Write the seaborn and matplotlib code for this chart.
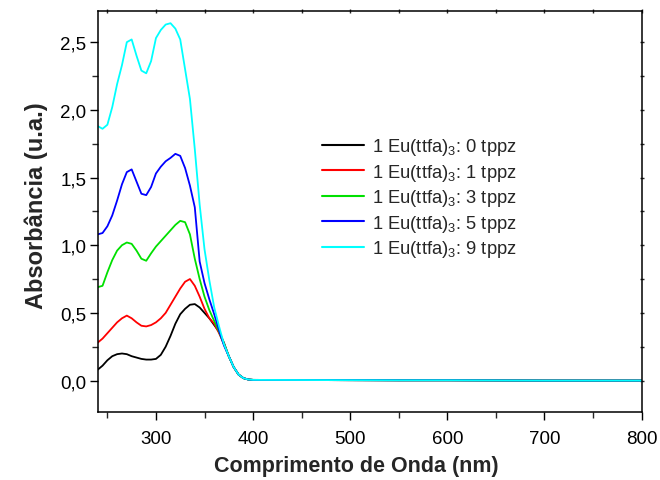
import numpy as np
import pandas as pd
import matplotlib
matplotlib.use("Agg")
import matplotlib.pyplot as plt
import seaborn as sns
from matplotlib.ticker import MultipleLocator, FuncFormatter

# ---- data ----
wavelength = [240, 245, 250, 255, 260, 265, 270, 275, 280, 285, 290, 295, 300,
              305, 310, 315, 320, 325, 330, 335, 340, 345, 350, 355, 360, 365,
              370, 375, 380, 385, 390, 395, 400, 450, 500, 550, 600, 650, 700,
              750, 800]

tail = [0.18, 0.10, 0.045, 0.018, 0.008, 0.005, 0.004, 0.003, 0.002, 0.002,
        0.001, 0.0, 0.0, 0.0]

abs_0 = [0.08, 0.11, 0.15, 0.18, 0.195, 0.20, 0.195, 0.18, 0.17, 0.16, 0.155,
         0.155, 0.16, 0.19, 0.25, 0.33, 0.42, 0.49, 0.53, 0.56, 0.565, 0.54,
         0.50, 0.46, 0.41, 0.36, 0.28] + tail
abs_1 = [0.28, 0.31, 0.35, 0.39, 0.43, 0.46, 0.48, 0.46, 0.43, 0.405, 0.40,
         0.41, 0.43, 0.46, 0.50, 0.56, 0.62, 0.68, 0.73, 0.75, 0.70, 0.62,
         0.53, 0.46, 0.42, 0.35, 0.27] + tail
abs_3 = [0.69, 0.70, 0.80, 0.89, 0.96, 1.00, 1.02, 1.01, 0.96, 0.90, 0.885,
         0.94, 0.99, 1.03, 1.07, 1.11, 1.15, 1.18, 1.17, 1.08, 0.90, 0.75,
         0.62, 0.52, 0.44, 0.36, 0.27] + tail
abs_5 = [1.08, 1.09, 1.14, 1.22, 1.33, 1.45, 1.54, 1.56, 1.47, 1.38, 1.37,
         1.43, 1.53, 1.58, 1.62, 1.645, 1.675, 1.66, 1.57, 1.44, 1.28, 0.88,
         0.72, 0.60, 0.49, 0.37, 0.26] + tail
abs_9 = [1.88, 1.86, 1.89, 2.02, 2.19, 2.33, 2.50, 2.52, 2.40, 2.29, 2.27,
         2.36, 2.53, 2.59, 2.63, 2.64, 2.60, 2.52, 2.30, 2.08, 1.71, 1.30,
         0.97, 0.74, 0.54, 0.40, 0.27] + tail

labels = ["1 Eu(ttfa)$_3$: 0 tppz", "1 Eu(ttfa)$_3$: 1 tppz",
          "1 Eu(ttfa)$_3$: 3 tppz", "1 Eu(ttfa)$_3$: 5 tppz",
          "1 Eu(ttfa)$_3$: 9 tppz"]
series = [abs_0, abs_1, abs_3, abs_5, abs_9]
colors = ["#000000", "#ff0000", "#00e000", "#0000ff", "#00ffff"]

df = pd.concat([pd.DataFrame({"wl": wavelength, "abs": s, "amostra": lab})
                for s, lab in zip(series, labels)], ignore_index=True)

# ---- style ----
sns.set_style("ticks")
plt.rcParams["font.family"] = ["Liberation Sans", "DejaVu Sans"]
plt.rcParams["mathtext.default"] = "regular"

fig = plt.figure(figsize=(6.6, 4.81), dpi=100)
ax = fig.add_axes([0.148, 0.142, 0.824, 0.833])

sns.lineplot(data=df, x="wl", y="abs", hue="amostra", hue_order=labels,
             palette=colors, linewidth=1.3, ax=ax, sort=False)

ax.set_xlim(240, 800)
ax.set_ylim(-0.23, 2.73)
ax.xaxis.set_major_locator(MultipleLocator(100))
ax.xaxis.set_minor_locator(MultipleLocator(50))
ax.yaxis.set_major_locator(MultipleLocator(0.5))
ax.yaxis.set_minor_locator(MultipleLocator(0.25))
ax.yaxis.set_major_formatter(FuncFormatter(lambda v, p: f"{v:.1f}".replace(".", ",")))
ax.xaxis.set_major_formatter(FuncFormatter(lambda v, p: f"{v:.0f}"))

for s in ax.spines.values():
    s.set_visible(True)
    s.set_linewidth(1.1)
    s.set_color("black")

ax.tick_params(axis="both", which="major", direction="out", length=6, width=1.0,
               labelsize=13.5, colors="black")
ax.tick_params(axis="x", which="major", pad=7.5)
ax.tick_params(axis="y", which="major", pad=2)
ax.tick_params(axis="both", which="minor", direction="out", length=4, width=1.0)
ax.tick_params(top=False, right=False, which="both")

# small ticks on top/right
ax2x = ax.secondary_xaxis("top")
ax2x.xaxis.set_major_locator(MultipleLocator(50))
ax2x.tick_params(direction="inout", length=3, width=1.0, labeltop=False)
ax2x.spines["top"].set_visible(False)
ax2y = ax.secondary_yaxis("right")
ax2y.yaxis.set_major_locator(MultipleLocator(0.25))
ax2y.tick_params(direction="inout", length=3, width=1.0, labelright=False)
ax2y.spines["right"].set_visible(False)

ax.set_xlabel("Comprimento de Onda (nm)", fontsize=15.5, fontweight="bold")
ax.set_ylabel("Absorbância (u.a.)", fontsize=17, fontweight="bold")
ax.xaxis.set_label_coords(0.475, -0.108)
ax.yaxis.set_label_coords(-0.091, 0.516)

leg = ax.legend(loc="upper left", bbox_to_anchor=(0.413, 0.688), frameon=False,
                fontsize=13.2, handlelength=2.3, handletextpad=0.4,
                labelspacing=0.25, borderaxespad=0, borderpad=0)
for h in leg.get_lines():
    h.set_linewidth(1.5)

fig.savefig("out.png", dpi=100)
